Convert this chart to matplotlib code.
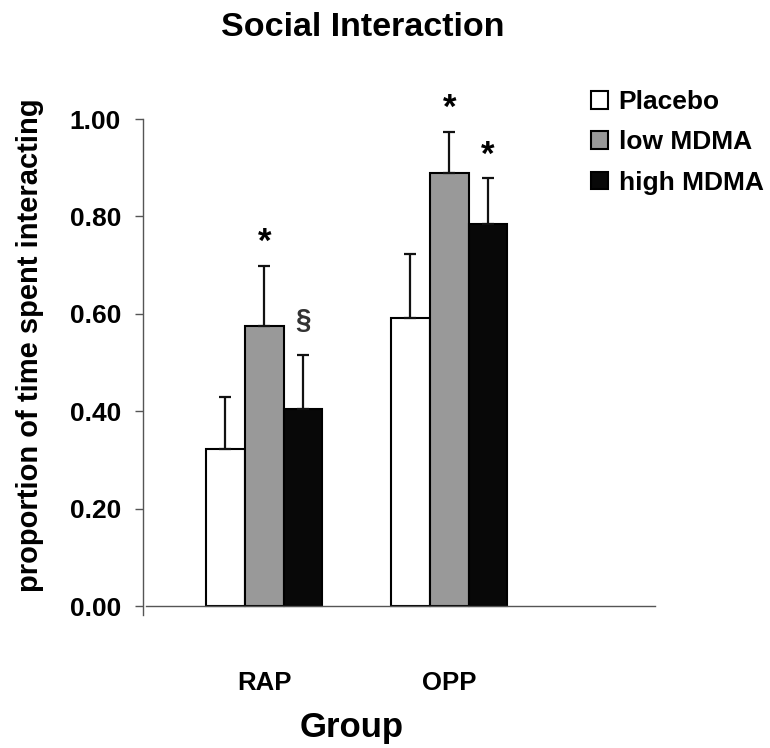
import numpy as np
import matplotlib
matplotlib.use("Agg")
import matplotlib.pyplot as plt

# data
groups = ["RAP", "OPP"]
conditions = ["Placebo", "low MDMA", "high MDMA"]
colors = ["#ffffff", "#999999", "#080808"]
means = {
    "Placebo": [0.322, 0.592],
    "low MDMA": [0.576, 0.889],
    "high MDMA": [0.404, 0.785],
}
sem = {
    "Placebo": [0.108, 0.131],
    "low MDMA": [0.123, 0.085],
    "high MDMA": [0.112, 0.093],
}
# significance marks: (group index, condition, symbol)
marks = [(0, "low MDMA", "*"), (0, "high MDMA", "\u00a7"),
         (1, "low MDMA", "*"), (1, "high MDMA", "*")]

plt.rcParams["font.family"] = ["Liberation Sans", "DejaVu Sans"]
plt.rcParams["font.weight"] = "bold"

def main():
    fig = plt.figure(figsize=(7.7, 7.48), dpi=100)
    # y axis runs a little below zero so the left spine pokes under the baseline
    ymin = -0.018
    h = 0.6512 * (1 - ymin)
    ax = fig.add_axes([0.186, 0.1897 - 0.6512 * (-ymin), 0.665, h])

    x = np.arange(len(groups))
    width = 0.21
    offsets = [-width, 0, width]

    # spines first: set_position resets the tick formatting
    for side in ["top", "right"]:
        ax.spines[side].set_visible(False)
    for side in ["left", "bottom"]:
        ax.spines[side].set_color("#555555")
        ax.spines[side].set_linewidth(1.0)
    ax.spines["bottom"].set_position(("data", 0))
    ax.spines["bottom"].set_bounds(-0.637, 2.114)

    for cond, col, off in zip(conditions, colors, offsets):
        ax.bar(x + off, means[cond], width, color=col, edgecolor="black",
               linewidth=1.5, label=cond, zorder=2)
        ax.errorbar(x + off, means[cond], yerr=[np.zeros(len(x)), sem[cond]],
                    fmt="none", ecolor="#111111", elinewidth=1.6, capsize=4,
                    capthick=1.6, zorder=3, clip_on=False)

    for gi, cond, sym in marks:
        off = offsets[conditions.index(cond)]
        top = means[cond][gi] + sem[cond][gi]
        if sym == "*":
            ax.text(x[gi] + off, top + 0.048, sym, ha="center", va="center",
                    fontsize=25, fontweight="bold", clip_on=False)
        else:
            ax.text(x[gi] + off, top + 0.07, sym, ha="center", va="center",
                    fontsize=20, fontweight="bold", color="#333333",
                    clip_on=False)

    ax.set_xlim(-0.654, 2.114)
    ax.set_ylim(ymin, 1.0)
    ax.set_yticks(np.arange(0, 1.01, 0.2))
    ax.set_yticklabels(["%.2f" % v for v in np.arange(0, 1.01, 0.2)],
                       fontsize=19, fontweight="bold")
    ax.set_xticks(x)
    ax.set_xticklabels(groups, fontsize=18.5, fontweight="bold")
    ax.tick_params(axis="x", length=0, pad=47)
    ax.tick_params(axis="y", length=6, width=1, color="#555555", pad=10)

    fig.text(363 / 770, 1 - 27 / 748, "Social Interaction", ha="center",
             va="center", fontsize=24.5, fontweight="bold")
    fig.text(30 / 770, 1 - 345 / 748, "proportion of time spent interacting",
             rotation=90, ha="center", va="center", fontsize=21,
             fontweight="bold")
    fig.text(352 / 770, 1 - 727 / 748, "Group", ha="center", va="center",
             fontsize=25, fontweight="bold")

    ax.legend(loc="upper left", bbox_to_anchor=(591 / 770, 1 - 90 / 748),
              bbox_transform=fig.transFigure, frameon=False,
              handlelength=0.65, handleheight=0.65, handletextpad=0.4,
              labelspacing=0.62, borderpad=0, borderaxespad=0,
              prop={"weight": "bold", "size": 19})

    fig.savefig("out.png", dpi=100)

if __name__ == "__main__":
    main()
